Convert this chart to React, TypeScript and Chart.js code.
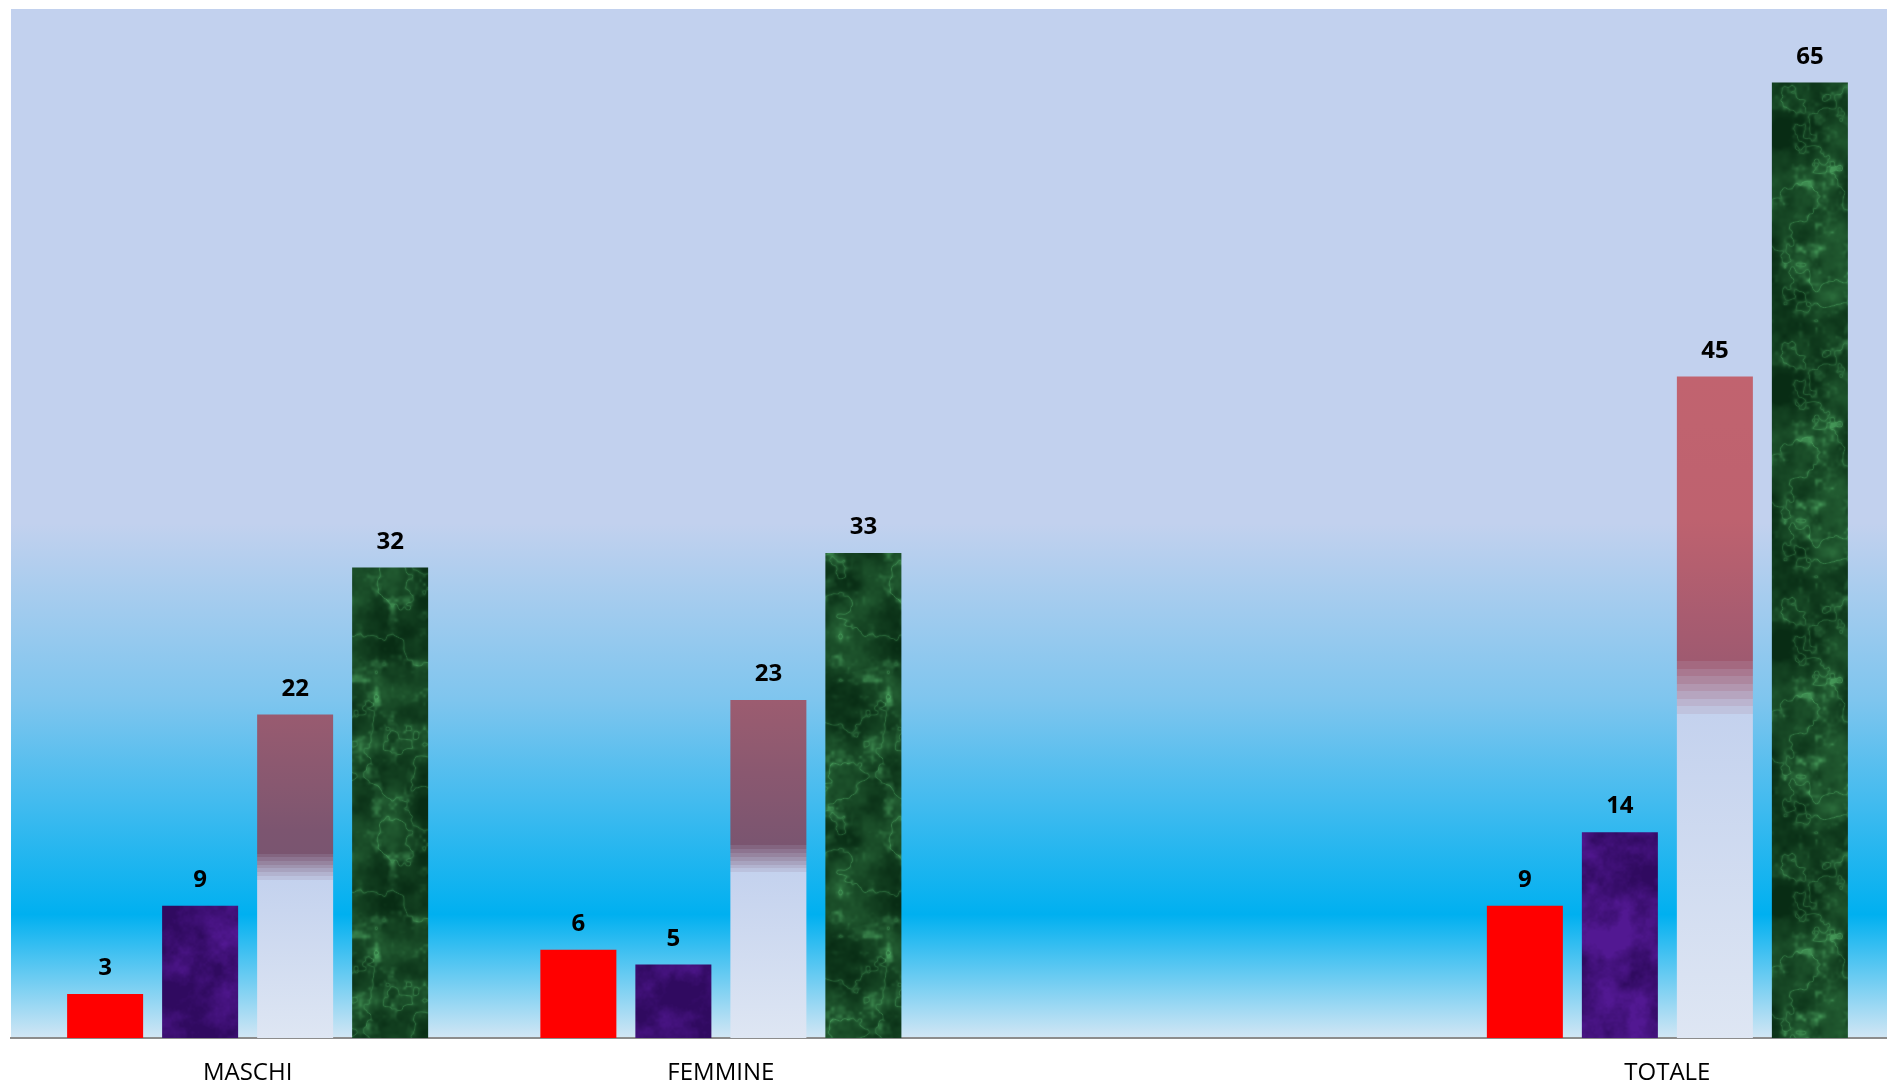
import { useEffect, useRef } from "react";
import { Chart, registerables } from "chart.js";

Chart.register(...registerables);

// ---- data ----
const categories = ["MASCHI", "FEMMINE", "", "TOTALE"];
const seriesNames = ["Serie 1", "Serie 2", "Serie 3", "Serie 4"];
const serieRossa: (number | null)[] = [3, 6, null, 9];
const serieViola: (number | null)[] = [9, 5, null, 14];
const serieRosa: (number | null)[] = [22, 23, null, 45];
const serieVerde: (number | null)[] = [32, 33, null, 65];
const yMin = 0;
const yMax = 70;

const FONT = "'Open Sans', 'Noto Sans', sans-serif";

// ---- texture helpers (deterministic noise, used only for fill patterns) ----
function hash(x: number, y: number, s: number) {
  let h = Math.imul(x, 374761393) ^ Math.imul(y, 668265263) ^ Math.imul(s, 1442695041);
  h = Math.imul(h ^ (h >>> 13), 1274126177);
  h ^= h >>> 16;
  return (h >>> 0) / 4294967296;
}
function vnoise(x: number, y: number, period: number, s: number) {
  const xi = Math.floor(x), yi = Math.floor(y);
  const xf = x - xi, yf = y - yi;
  const u = xf * xf * (3 - 2 * xf), v = yf * yf * (3 - 2 * yf);
  const x0 = ((xi % period) + period) % period, x1 = (x0 + 1) % period;
  const y0 = ((yi % period) + period) % period, y1 = (y0 + 1) % period;
  const a = hash(x0, y0, s), b = hash(x1, y0, s), c = hash(x0, y1, s), d = hash(x1, y1, s);
  return a + (b - a) * u + (c - a) * v + (a - b - c + d) * u * v;
}
function fbm(px: number, py: number, size: number, cell: number, oct: number, s: number) {
  let sum = 0, amp = 1, norm = 0, c = cell;
  for (let o = 0; o < oct; o++) {
    sum += amp * vnoise(px / c, py / c, size / c, s + o * 17);
    norm += amp;
    amp *= 0.55;
    c /= 2;
  }
  return sum / norm;
}
const clamp = (t: number) => Math.max(0, Math.min(1, t));

function makeTexture(kind: "green" | "purple"): CanvasPattern | string {
  const size = 256;
  const c = document.createElement("canvas");
  c.width = size;
  c.height = size;
  const g = c.getContext("2d");
  if (!g) return kind === "green" ? "#134d27" : "#3f0f75";
  const img = g.createImageData(size, size);
  for (let y = 0; y < size; y++) {
    for (let x = 0; x < size; x++) {
      let r = 0, gg = 0, b = 0;
      if (kind === "green") {
        const n = fbm(x, y, size, 64, 5, 11);
        const t = Math.pow(clamp((n - 0.3) / 0.4), 1.3);
        const m = fbm(x, y, size, 16, 3, 41);
        const speck = Math.pow(clamp((m - 0.55) / 0.3), 2) * clamp(t + 0.4);
        const rr = fbm(x, y, size, 32, 4, 29);
        const vein = Math.pow(1 - Math.abs(rr * 2 - 1), 20) * 0.6;
        const light = clamp(speck + vein);
        r = 8 + 34 * t + 40 * light;
        gg = 44 + 62 * t + 70 * light;
        b = 20 + 38 * t + 45 * light;
      } else {
        const n = fbm(x, y, size, 32, 5, 7);
        const t = clamp((n - 0.3) / 0.4);
        r = 48 + 34 * t;
        gg = 10 + 14 * t;
        b = 96 + 50 * t;
      }
      const i = (y * size + x) * 4;
      img.data[i] = r;
      img.data[i + 1] = gg;
      img.data[i + 2] = b;
      img.data[i + 3] = 255;
    }
  }
  g.putImageData(img, 0, 0);
  const p = g.createPattern(c, "repeat");
  return p || (kind === "green" ? "#134d27" : "#3f0f75");
}

// rose colour by vertical position inside the plot area (fraction from top)
const roseStops: [number, number[]][] = [
  [0.357, [193, 99, 111]],
  [0.5, [190, 98, 111]],
  [0.626, [160, 90, 112]],
  [0.672, [156, 92, 112]],
  [0.808, [122, 85, 112]],
];
function roseAt(f: number) {
  if (f <= roseStops[0][0]) return roseStops[0][1];
  for (let i = 1; i < roseStops.length; i++) {
    if (f <= roseStops[i][0]) {
      const [f0, c0] = roseStops[i - 1];
      const [f1, c1] = roseStops[i];
      const t = (f - f0) / (f1 - f0);
      return c0.map((v, k) => v + (c1[k] - v) * t);
    }
  }
  return roseStops[roseStops.length - 1][1];
}
const rgb = (c: number[]) => `rgb(${Math.round(c[0])},${Math.round(c[1])},${Math.round(c[2])})`;
const mix = (a: number[], b: number[], t: number) => a.map((v, k) => v + (b[k] - v) * t);

const backgroundPlugin = {
  id: "plotBg",
  beforeDraw(chart: any) {
    const { ctx, chartArea: a } = chart;
    if (!a) return;
    const gr = ctx.createLinearGradient(0, a.top, 0, a.bottom);
    gr.addColorStop(0, "#C2D1EE");
    gr.addColorStop(0.5, "#C2D1EE");
    gr.addColorStop(0.672, "#7EC5EE");
    gr.addColorStop(0.88, "#00B0F0");
    gr.addColorStop(1, "#D2E6F4");
    ctx.save();
    ctx.fillStyle = gr;
    ctx.fillRect(a.left, a.top, a.right - a.left, a.bottom - a.top);
    ctx.restore();
  },
};

const valueLabelPlugin = {
  id: "valueLabels",
  afterDatasetsDraw(chart: any) {
    const { ctx } = chart;
    ctx.save();
    ctx.font = `bold 24px ${FONT}`;
    ctx.fillStyle = "#000";
    ctx.textAlign = "center";
    ctx.textBaseline = "alphabetic";
    chart.data.datasets.forEach((ds: any, di: number) => {
      const meta = chart.getDatasetMeta(di);
      meta.data.forEach((el: any, i: number) => {
        const v = ds.data[i];
        if (v == null) return;
        ctx.fillText(String(v), el.x, el.y - 19);
      });
    });
    ctx.restore();
  },
};

export default function App() {
  const ref = useRef<HTMLCanvasElement>(null);
  useEffect(() => {
    const canvas = ref.current;
    if (!canvas) return;
    const purple = makeTexture("purple");
    const green = makeTexture("green");

    const roseFill = (ctx: any) => {
      const chart = ctx.chart;
      const area = chart.chartArea;
      const v = ctx.raw;
      if (!area || v == null || !chart.scales.y) return "#C4D2EE";
      const ys = chart.scales.y;
      const top = ys.getPixelForValue(v);
      const bot = ys.getPixelForValue(0);
      const H = bot - top;
      if (H <= 0) return "#C4D2EE";
      const fr = (y: number) => (y - area.top) / (area.bottom - area.top);
      const g = chart.ctx.createLinearGradient(0, top, 0, bot);
      const dStart = 0.43;
      const dEnd = 0.51;
      const L = [196, 210, 238];
      for (let k = 0; k <= 6; k++) {
        const s = (dStart * k) / 6;
        g.addColorStop(s, rgb(roseAt(fr(top + s * H))));
      }
      const D = roseAt(fr(top + dStart * H));
      const steps = 7;
      for (let k = 0; k < steps; k++) {
        const s0 = dStart + ((dEnd - dStart) * k) / steps;
        const s1 = dStart + ((dEnd - dStart) * (k + 1)) / steps;
        const col = rgb(mix(D, L, (k + 1) / (steps + 1)));
        g.addColorStop(s0 + 0.0001, col);
        g.addColorStop(s1, col);
      }
      g.addColorStop(dEnd + 0.0001, rgb(L));
      g.addColorStop(1, "rgb(222,230,243)");
      return g;
    };

    const chart = new Chart(canvas, {
      type: "bar",
      data: {
        labels: categories,
        datasets: [
          { label: seriesNames[0], data: serieRossa, backgroundColor: "#FF0000" },
          { label: seriesNames[1], data: serieViola, backgroundColor: purple as any },
          { label: seriesNames[2], data: serieRosa, backgroundColor: roseFill as any },
          { label: seriesNames[3], data: serieVerde, backgroundColor: green as any },
        ],
      },
      options: {
        responsive: false,
        animation: false,
        devicePixelRatio: 1,
        layout: { padding: { left: 3, top: 1, right: 0, bottom: 0 } },
        datasets: {
          bar: { categoryPercentage: 0.803, barPercentage: 0.8, borderWidth: 0 },
        },
        plugins: {
          legend: { display: false },
          tooltip: { enabled: false },
          title: { display: false },
        },
        scales: {
          x: {
            type: "category",
            offset: true,
            grid: { display: false, drawTicks: false },
            border: { display: true, color: "#8C8C8C", width: 2 },
            ticks: {
              color: "#000",
              font: { size: 24, family: FONT },
              padding: 21,
              maxRotation: 0,
              autoSkip: false,
            },
            afterFit: (s: any) => {
              s.height = 49;
            },
          },
          y: { display: false, min: yMin, max: yMax },
        },
      },
      plugins: [backgroundPlugin, valueLabelPlugin],
    });
    return () => chart.destroy();
  }, []);

  return (
    <div
      style={{
        position: "fixed",
        left: 0,
        top: 0,
        width: "1887px",
        height: "1087px",
        overflow: "hidden",
        background: "#fff",
      }}
    >
      <canvas
        ref={ref}
        width={1896}
        height={1079}
        style={{ position: "absolute", left: "8px", top: "8px", width: "1896px", height: "1079px" }}
      />
    </div>
  );
}
